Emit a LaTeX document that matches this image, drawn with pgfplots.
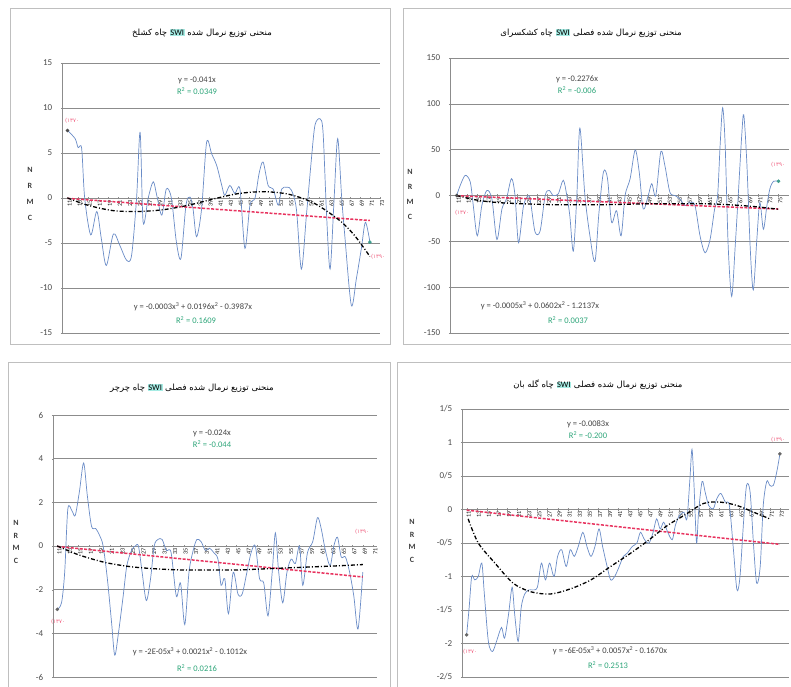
\documentclass[border=0pt]{standalone}
\usepackage{fontspec}
\setmainfont{Carlito}
\newfontfamily\arabicfont[Script=Arabic]{DejaVu Sans}
\newfontfamily\digfont{DejaVu Sans}
\TeXXeTstate=1
\usepackage{pgfplots}
\pgfplotsset{compat=1.18}
\definecolor{serblue}{HTML}{6A8CC7}
\definecolor{trendred}{HTML}{E8335F}
\definecolor{gridg}{HTML}{8C8C8C}
\definecolor{eqgreen}{HTML}{2EA67A}
\definecolor{eqtext}{HTML}{444444}
\definecolor{labred}{HTML}{F06080}
\definecolor{frameg}{HTML}{BFBFBF}
\definecolor{swihl}{HTML}{A6ECE4}
\definecolor{enddot}{HTML}{3E9E8E}
\pgfplotsset{
 panel/.style={
  scale only axis, anchor=south west,
  axis x line=middle, axis y line=left,
  axis line style={-, gridg, line width=0.5pt},
  ymajorgrids, grid style={gridg, line width=0.6pt},
  tick style={gridg},
  /pgf/number format/assume math mode=true,
  yticklabel style={font=\small, text=black!70, xshift=-5pt},
  xticklabel style={rotate=90, anchor=east, font=\fontsize{6.2}{7}\selectfont, text=black!90, inner sep=0.5pt, yshift=-2pt},
  major tick length=2.5pt,
  xtick={1,3,...,65},
  xticklabel={\pgfmathparse{int(\tick+10)}\pgfmathresult},
  clip=false,
 },
 series/.style={serblue, line width=0.7pt, smooth, tension=0.5, mark=none},
 lin/.style={trendred, line width=1.5pt, dash pattern=on 3pt off 1.5pt, mark=none},
 poly/.style={black, line width=1.3pt, dash pattern=on 4pt off 2pt on 1pt off 2pt, smooth, mark=none},
}
\newcommand{\ttl}[1]{\arabicfont\fontsize{8.5}{10}\selectfont #1}
\newcommand{\swi}{\beginL{\setlength\fboxsep{0.6pt}\colorbox{swihl}{\rmfamily SWI}}\endL{}}
\newcommand{\eqf}{\fontsize{8.5}{9}\selectfont}
\begin{document}
\begin{tikzpicture}[x=1pt,y=1pt]
\useasboundingbox (0,0) rectangle (791,686);
\fill[white] (0,0) rectangle (791,686);
% frames
\draw[frameg, line width=0.8pt] (10,678) rectangle (390,342);
\draw[frameg, line width=0.8pt] (403,678) rectangle (796,342);
\draw[frameg, line width=0.8pt] (8,324) rectangle (390,-5);
\draw[frameg, line width=0.8pt] (397,324) rectangle (796,-5);

% ---------------- Panel 1 ----------------
\begin{axis}[panel, at={(62pt,353pt)}, width=318pt, height=270pt,
  xmin=-0.1, xmax=63, ymin=-15, ymax=15, ytick={-15,-10,...,15}]
\addplot[series] coordinates {(1.0,7.5)(2.5,6.6)(3.1,5.6)(3.8,5.5)(4.4,0)(5.6,-4.1)(6.8,-1.5)(7.7,-4.5)(8.7,-7.5)(10.1,-4)(11.4,-5.3)(12.7,-6.9)(13.7,-6.4)(14.7,0)(15.4,7.3)(16.0,-2.7)(17.0,0)(18.0,1.8)(18.7,0.3)(19.7,-1.9)(20.6,1)(21.6,0)(22.6,-4.9)(23.5,-6.7)(24.5,-0.8)(25.3,0.1)(25.9,-1.2)(26.6,-4.3)(27.6,-1.2)(28.6,6.2)(29.6,4.9)(30.6,3.6)(31.6,1.4)(32.2,0.3)(33.2,1.4)(34.2,0.5)(35.2,1.0)(36.2,-5.6)(37.2,-0.8)(38.2,0)(39.0,2.7)(39.8,4)(40.8,1.4)(41.8,1)(42.8,-0.8)(43.5,1)(44.5,1.2)(45.4,0.9)(46.4,-1.2)(47.4,-7.9)(48.4,-1.9)(49.4,4.4)(50.1,8.1)(51.1,8.8)(51.7,7.3)(52.4,-1.9)(53.1,-7.9)(53.9,0)(54.6,6.6)(55.4,0)(56.0,-4.1)(57.3,-11.9)(58.3,-9)(59.3,-5.6)(60.1,-2.7)(61.0,-4.9)};
\addplot[lin] coordinates {(1,-0.04)(61,-2.50)};
\addplot[poly] coordinates {(1,0)(5,-0.8)(10,-1.4)(15,-1.5)(20,-1.3)(25,-0.8)(30,-0.1)(35,0.5)(40,0.7)(45,0.4)(50,-0.6)(55,-2.5)(58,-4.2)(61,-6.5)};
\addplot[only marks, mark=*, mark size=1.6pt, black!70] coordinates {(1.0,7.5)};
\addplot[only marks, mark=*, mark size=1.6pt, enddot] coordinates {(61.0,-4.9)};
\end{axis}

% ---------------- Panel 2 ----------------
\begin{axis}[panel, at={(450pt,353pt)}, width=339pt, height=275pt,
  xmin=-0.33, xmax=67.1, ymin=-150, ymax=150, ytick={-150,-100,...,150}]
\addplot[series] coordinates {(1.0,0)(1.7,11)(2.7,22)(3.7,14.7)(4.3,-11)(5.1,-44)(6.0,-11)(7.0,5.5)(8.0,-3.7)(9.0,-48)(10.0,-14.7)(10.9,-3.7)(11.9,18.4)(12.6,0)(13.3,-51.5)(14.3,-11)(15.3,0)(15.8,-11)(16.6,-40)(17.6,-38.6)(18.6,0)(19.4,5.5)(20.2,0)(21.2,1.8)(22.2,16.6)(22.9,0)(23.5,-22)(24.2,-60.7)(24.9,0)(25.5,73.6)(26.5,0)(27.5,-44)(28.5,-71.8)(29.3,-18.4)(30.2,25.8)(31.0,18.4)(31.8,-29)(32.8,-16.6)(33.7,-44)(34.5,0)(35.5,18.4)(36.5,49.7)(37.3,25.8)(38.1,-14.7)(39.1,0)(39.8,12.9)(40.6,0)(41.6,47.8)(42.4,33)(43.4,3.7)(44.4,0)(45.4,-3.7)(46.4,-11)(47.4,-7.4)(48.4,-11)(49.4,-44)(50.4,-62.5)(51.4,-48)(52.3,-14.7)(52.9,0)(53.4,55)(53.9,95.7)(54.4,55)(55.0,-55)(55.7,-110)(56.4,-55)(57.0,0)(57.7,66)(58.1,88)(58.7,36.8)(59.4,-59)(60.0,-103)(60.7,-48)(61.3,-7.4)(62.0,-36.8)(62.7,-11)(63.3,7.4)(64.0,15.5)(65.0,15.5)};
\addplot[lin] coordinates {(1,-0.23)(65,-14.8)};
\addplot[poly] coordinates {(1,0)(5,-5)(10,-8)(20,-10)(30,-10)(40,-9)(50,-9)(55,-10)(60,-12)(65,-15)};
\addplot[only marks, mark=*, mark size=1.6pt, black!70] coordinates {(1.0,0)};
\addplot[only marks, mark=*, mark size=1.6pt, enddot] coordinates {(65.0,15.5)};
\end{axis}

% ---------------- Panel 3 ----------------
\begin{axis}[panel, at={(53pt,9pt)}, width=324pt, height=262pt,
  xmin=0.18, xmax=61.7, ymin=-6, ymax=6, ytick={-6,-4,...,6}]
\addplot[series] coordinates {(1.0,-2.9)(1.8,-2.6)(2.4,-1.2)(3.0,1.7)(3.8,1.6)(4.4,1.4)(5.2,2.5)(6.0,3.8)(6.7,2.3)(7.5,0.9)(8.3,0.8)(9.0,0.5)(9.7,0)(10.5,-1.5)(11.3,-3.5)(11.9,-5.0)(12.6,-4)(13.5,-2.3)(14.2,-0.9)(15.1,-0.2)(15.8,0)(16.4,0)(17.1,-1.2)(17.9,-2.5)(18.7,-1.5)(19.4,0)(20.1,0.3)(20.9,0.3)(21.7,-0.2)(22.6,-0.3)(23.6,-2.3)(24.4,-1.7)(25.2,-3.6)(26.0,-1.2)(26.8,-0.2)(27.5,0.3)(28.3,0.2)(29.1,-0.2)(29.9,-0.1)(30.7,-0.3)(31.5,-0.6)(32.1,-1.8)(32.8,-1.5)(33.5,-3.1)(34.4,-1.2)(35.3,-2.2)(36.1,-2.2)(37.0,-1.2)(37.8,-0.3)(38.6,0)(39.4,-1.5)(40.2,-1.7)(41.0,-3.2)(41.8,-1.2)(42.4,0.6)(43.0,-1.1)(43.8,-2.6)(44.6,-1.2)(45.4,-0.6)(46.2,-0.8)(47.0,0)(47.6,-1.8)(48.5,-0.3)(49.5,0.2)(50.4,1.3)(51.1,0.8)(51.9,-0.2)(52.8,-0.9)(53.5,0)(54.2,0.4)(54.9,-0.5)(55.7,-0.5)(56.5,-1.2)(57.3,-2.3)(58.1,-3.8)(59.0,-1.2)};
\addplot[lin] coordinates {(1,-0.02)(59,-1.42)};
\addplot[poly] coordinates {(1,0)(5,-0.4)(10,-0.75)(15,-0.95)(20,-1.05)(25,-1.1)(30,-1.1)(35,-1.1)(40,-1.05)(45,-1.0)(50,-0.95)(55,-0.9)(59,-0.85)};
\addplot[only marks, mark=*, mark size=1.6pt, black!60] coordinates {(1.0,-2.9)};
\end{axis}

% ---------------- Panel 4 ----------------
\begin{axis}[panel, at={(462pt,9pt)}, width=327pt, height=268pt,
  xmin=0.08, xmax=64.8, ymin=-2.5, ymax=1.5, ytick={-2.5,-2,-1.5,-1,-0.5,0,0.5,1,1.5},
  yticklabels={-2/5,-2,-1/5,-1,-0/5,0,0/5,1,1/5}]
\addplot[series] coordinates {(1.0,-1.87)(1.5,-1.46)(2.0,-1.0)(2.6,-1.05)(3.3,-1.0)(4.0,-0.8)(4.5,-1.26)(5.3,-1.97)(6.1,-2.12)(6.9,-1.97)(7.9,-1.76)(8.5,-1.92)(9.3,-1.56)(10.0,-1.16)(10.5,-1.56)(11.2,-1.97)(11.8,-1.46)(12.5,-1.26)(13.3,-1.2)(14.1,-1.2)(15.0,-1.16)(15.8,-0.8)(16.6,-1.05)(17.4,-0.8)(18.3,-1.0)(19.0,-0.7)(19.8,-0.6)(20.7,-0.85)(21.5,-0.6)(22.3,-0.7)(23.1,-0.55)(24.0,-0.34)(24.8,-0.55)(25.6,-0.7)(26.4,-0.55)(27.2,-0.29)(27.9,-0.55)(28.8,-0.85)(29.5,-1.05)(30.3,-1.0)(31.2,-0.85)(32.0,-0.7)(32.8,-0.65)(33.8,-0.55)(34.7,-0.5)(35.4,-0.34)(36.2,-0.45)(37.1,-0.5)(37.9,-0.34)(38.6,-0.14)(39.3,-0.29)(40.0,-0.19)(40.8,-0.34)(41.7,-0.45)(42.3,-0.24)(43.1,-0.09)(44.0,-0.04)(44.6,-0.14)(45.2,0.47)(45.6,0.9)(46.0,0.36)(46.5,-0.5)(46.9,-0.04)(47.6,0.42)(48.2,0.26)(48.9,0.06)(49.8,0.01)(50.5,0.16)(51.3,0.24)(52.2,0.11)(53.0,0.06)(53.8,-0.6)(54.5,-1.2)(55.1,-1.0)(55.8,-0.19)(56.4,0.36)(57.1,0.26)(57.8,-0.55)(58.4,-1.1)(59.1,-0.85)(59.7,0.06)(60.4,0.42)(61.0,0.36)(61.7,0.36)(62.4,0.57)(63.0,0.83)};
\addplot[lin] coordinates {(1,-0.01)(63,-0.52)};
\addplot[poly] coordinates {(1.3,-0.14)(3.3,-0.5)(6.6,-0.8)(10.2,-1.1)(13.8,-1.23)(17.7,-1.26)(21.7,-1.18)(25.6,-1.05)(29.5,-0.85)(33.5,-0.65)(36.8,-0.47)(40.7,-0.24)(44.0,-0.09)(47.9,0.09)(51.2,0.11)(54.5,0.06)(57.8,-0.04)(61.0,-0.14)};
\addplot[only marks, mark=*, mark size=1.6pt, black!60] coordinates {(1.0,-1.87)};
\addplot[only marks, mark=*, mark size=1.6pt, black!60] coordinates {(63.0,0.83)};
\end{axis}

% ---------------- Titles ----------------
\node at (202,653) {\ttl{\beginR منحنی توزیع نرمال شده \swi{} چاه کشلخ\endR}};
\node at (591,653) {\ttl{\beginR منحنی توزیع نرمال شده فصلی \swi{} چاه کشکسرای\endR}};
\node at (192,298) {\ttl{\beginR منحنی توزیع نرمال شده فصلی \swi{} چاه چرچر\endR}};
\node at (598,301) {\ttl{\beginR منحنی توزیع نرمال شده فصلی \swi{} چاه گله بان\endR}};

% ---------------- Y labels (stacked letters) ----------------
\foreach \px/\yy/\dy in {30/516/16, 410/514/15, 16/163/12.5, 412/164/12.5}{
  \node[font=\footnotesize\bfseries, text=black!75, inner sep=0pt] at (\px,\yy) {N};
  \node[font=\footnotesize\bfseries, text=black!75, inner sep=0pt] at (\px,\yy-\dy) {R};
  \node[font=\footnotesize\bfseries, text=black!75, inner sep=0pt] at (\px,\yy-2*\dy) {M};
  \node[font=\footnotesize\bfseries, text=black!75, inner sep=0pt] at (\px,\yy-3*\dy) {C};
}

% ---------------- Equations ----------------
\node[font=\eqf, text=eqtext] at (197,606) {y = -0.041x};
\node[font=\eqf, text=eqgreen] at (197,595) {R\textsuperscript{2} = 0.0349};
\node[font=\eqf, text=eqtext] at (193,379) {y = -0.0003x\textsuperscript{3} + 0.0196x\textsuperscript{2} - 0.3987x};
\node[font=\eqf, text=eqgreen] at (196,366) {R\textsuperscript{2} = 0.1609};

\node[font=\eqf, text=eqtext] at (577,607) {y = -0.2276x};
\node[font=\eqf, text=eqgreen] at (577,596) {R\textsuperscript{2} = -0.006};
\node[font=\eqf, text=eqtext] at (540,380) {y = -0.0005x\textsuperscript{3} + 0.0602x\textsuperscript{2} - 1.2137x};
\node[font=\eqf, text=eqgreen] at (568,366) {R\textsuperscript{2} = 0.0037};

\node[font=\eqf, text=eqtext] at (212,253) {y = -0.024x};
\node[font=\eqf, text=eqgreen] at (212,242) {R\textsuperscript{2} = -0.044};
\node[font=\eqf, text=eqtext] at (190,34) {y = -2E-05x\textsuperscript{3} + 0.0021x\textsuperscript{2} - 0.1012x};
\node[font=\eqf, text=eqgreen] at (197,18) {R\textsuperscript{2} = 0.0216};

\node[font=\eqf, text=eqtext] at (588,262) {y = -0.0083x};
\node[font=\eqf, text=eqgreen] at (588,251) {R\textsuperscript{2} = -0.200};
\node[font=\eqf, text=eqtext] at (610,35) {y = -6E-05x\textsuperscript{3} + 0.0057x\textsuperscript{2} - 0.1670x};
\node[font=\eqf, text=eqgreen] at (608,21) {R\textsuperscript{2} = 0.2513};

% ---------------- Red year labels ----------------
\newcommand{\yl}[1]{\digfont\fontsize{5.5}{6}\selectfont #1}
\node[text=labred] at (72,565) {\yl{(۱۳۷۰}};
\node[text=labred] at (378,429) {\yl{(۱۳۹۰}};
\node[text=labred] at (462,473) {\yl{(۱۳۷۰}};
\node[text=labred] at (778,521) {\yl{(۱۳۹۰}};
\node[text=labred] at (58,64) {\yl{(۱۳۷۰}};
\node[text=labred] at (362,154) {\yl{(۱۳۹۰}};
\node[text=labred] at (470,34) {\yl{(۱۳۷۰}};
\node[text=labred] at (778,246) {\yl{(۱۳۹۰}};
\end{tikzpicture}
\end{document}
